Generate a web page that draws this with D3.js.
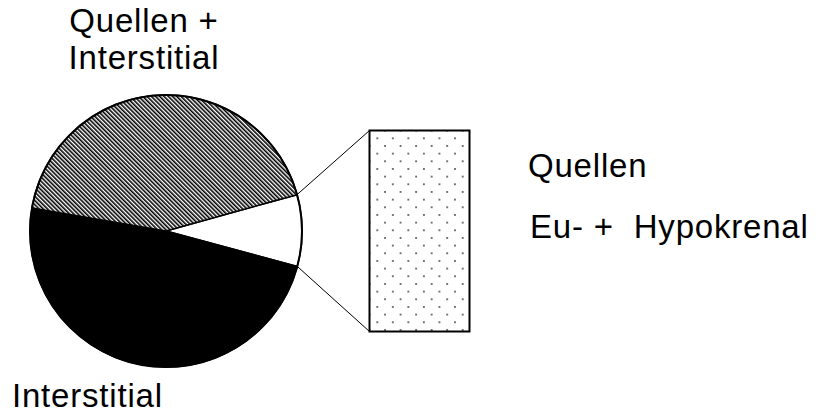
<!DOCTYPE html>
<html>
<head>
<meta charset="utf-8">
<script src="https://cdn.jsdelivr.net/npm/d3@7"></script>
<style>
  body { margin: 0; background: #fff; }
  svg { display: block; }
  text { font-family: "Liberation Sans", Arial, sans-serif; font-size: 33px; letter-spacing: 0.8px; fill: #000; white-space: pre; }
</style>
</head>
<body>
<div class="chart"></div>
<script>
const width = 818
const height = 414

// slice shares in percent, clockwise starting at the white wedge
const categories = ["Quellen Eu- + Hypokrenal", "Interstitial", "Quellen + Interstitial"]
const shares = [8.5, 48.5, 43]
const fills = ["#fff", "#000", "url(#hatch)"]

const labelTop = ["Quellen +", "Interstitial"]
const labelRight = ["Quellen", "Eu- +  Hypokrenal"]
const labelBottom = ["Interstitial"]

const cx = 166, cy = 231, radius = 136
const startDeg = 74.5

const svg = d3.select(".chart").append("svg")
  .attr("width", width)
  .attr("height", height)

const defs = svg.append("defs")

const hatch = defs.append("pattern")
  .attr("id", "hatch")
  .attr("patternUnits", "userSpaceOnUse")
  .attr("width", 3)
  .attr("height", 3)
  .attr("patternTransform", "rotate(-45)")
hatch.append("rect").attr("width", 3).attr("height", 3).attr("fill", "#fff")
hatch.append("rect").attr("width", 1.6).attr("height", 3).attr("fill", "#000")

const dots = defs.append("pattern")
  .attr("id", "dots")
  .attr("patternUnits", "userSpaceOnUse")
  .attr("x", 377.3)
  .attr("y", 138.3)
  .attr("width", 15.53)
  .attr("height", 15.33)
const dotPos = [[0, 0], [15.53, 0], [0, 15.33], [15.53, 15.33], [7.77, 7.67]]
dots.selectAll("circle")
  .data(dotPos)
  .join("circle")
  .attr("cx", d => d[0])
  .attr("cy", d => d[1])
  .attr("r", 0.9)
  .attr("fill", "#333")

const pie = d3.pie()
  .sort(null)
  .value(d => d)
  .startAngle(startDeg * Math.PI / 180)
  .endAngle(startDeg * Math.PI / 180 + 2 * Math.PI)

const arc = d3.arc()
  .innerRadius(0)
  .outerRadius(radius)

const arcs = pie(shares)

const g = svg.append("g")
  .attr("transform", `translate(${cx},${cy})`)

g.selectAll("path")
  .data(arcs)
  .join("path")
  .attr("d", arc)
  .attr("fill", (d, i) => fills[i])
  .attr("stroke", "#000")
  .attr("stroke-width", 1.5)
  .attr("stroke-linejoin", "round")
  .append("title")
  .text((d, i) => `${categories[i]}: ${shares[i]} %`)

g.append("circle")
  .attr("r", radius)
  .attr("fill", "none")
  .attr("stroke", "#000")
  .attr("stroke-width", 2)

// zoom box for the small wedge
const box = {x: 369.5, y: 130.5, w: 100, h: 201}

svg.append("rect")
  .attr("x", box.x)
  .attr("y", box.y)
  .attr("width", box.w)
  .attr("height", box.h)
  .attr("fill", "url(#dots)")
  .attr("stroke", "#000")
  .attr("stroke-width", 2)

const edge = a => [cx + radius * Math.sin(a), cy - radius * Math.cos(a)]
const w = arcs[0]
const p1 = edge(w.startAngle), p2 = edge(w.endAngle)

svg.append("line")
  .attr("x1", p1[0]).attr("y1", p1[1])
  .attr("x2", box.x).attr("y2", box.y)
  .attr("stroke", "#000").attr("stroke-width", 1)
svg.append("line")
  .attr("x1", p2[0]).attr("y1", p2[1])
  .attr("x2", box.x).attr("y2", box.y + box.h)
  .attr("stroke", "#000").attr("stroke-width", 1)

svg.append("g")
  .selectAll("text")
  .data(labelTop)
  .join("text")
  .attr("x", 144)
  .attr("y", (d, i) => 32 + i * 37)
  .attr("text-anchor", "middle")
  .text(d => d)

svg.append("g")
  .selectAll("text")
  .data(labelRight)
  .join("text")
  .attr("x", (d, i) => i === 0 ? 528 : 530)
  .attr("y", (d, i) => i === 0 ? 177 : 238)
  .text(d => d)

svg.append("text")
  .attr("x", 12)
  .attr("y", 407)
  .text(labelBottom[0])
</script>
</body>
</html>
